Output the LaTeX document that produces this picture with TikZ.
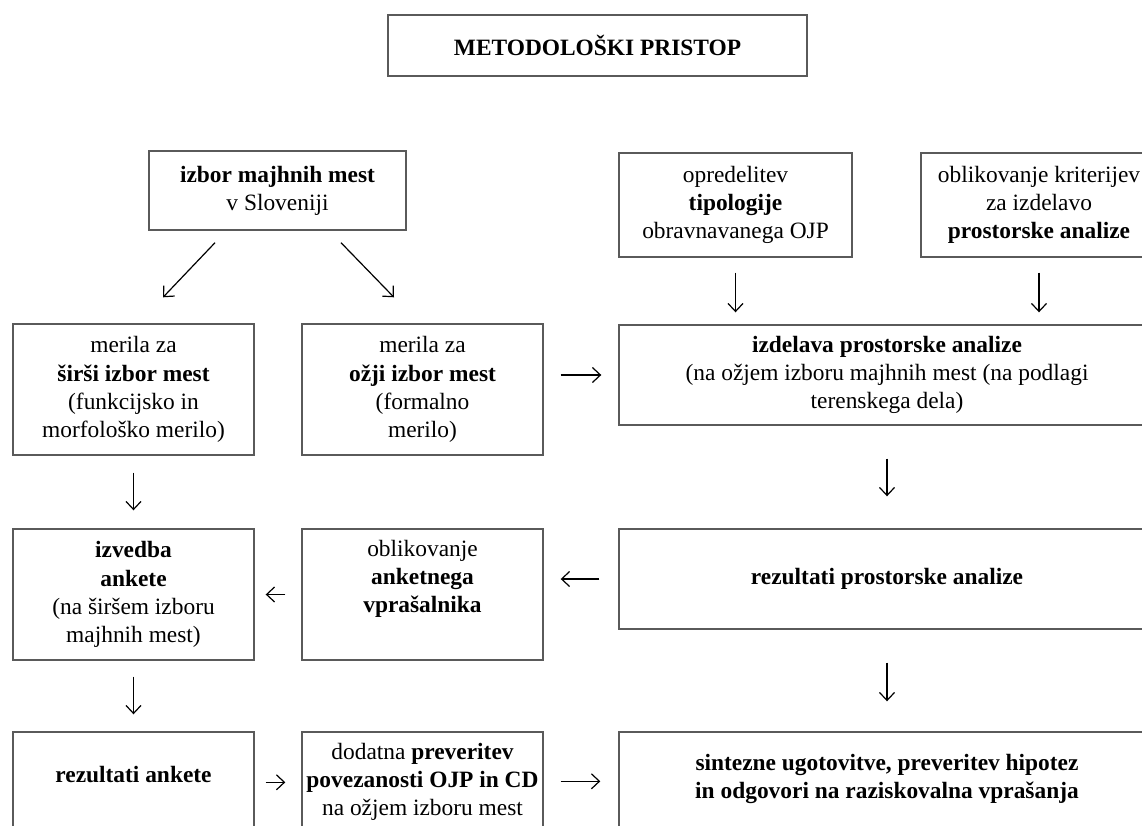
\documentclass[tikz,border=0pt]{standalone}
\usepackage{fontspec}
\setmainfont{Liberation Serif}
\usetikzlibrary{arrows.meta,calc}
\definecolor{boxline}{HTML}{5A5A5A}
\tikzset{
  box/.style={draw=boxline, line width=1.4pt, inner sep=0pt, align=center,
    font=\fontsize{23.4}{28.2}\selectfont},
  conn/.style={line width=1.2pt, -{Straight Barb[length=8pt,width=15pt,line width=1.2pt]}}
}
\begin{document}
\begin{tikzpicture}[x=1pt,y=-1pt]
\useasboundingbox (0,0) rectangle (1142,825);
\clip (0,0) rectangle (1142,825);
\fill[white] (0,0) rectangle (1142,825);

\node[box, minimum width=419, minimum height=61] (title) at (597.5,45.5) {\textbf{METODOLOŠKI PRISTOP}};

\node[box, minimum width=257, minimum height=79] (izbor) at (277.5,190.5) {\textbf{izbor majhnih mest}\\ v Sloveniji};

\node[box, minimum width=241, minimum height=131] (sirsi) at (133.5,389.5) {merila za\\ \textbf{širši izbor mest}\\ (funkcijsko in\\ morfološko merilo)};
\node[box, minimum width=241, minimum height=131] (ozji) at (422.5,389.5) {merila za\\ \textbf{ožji izbor mest}\\ (formalno\\ merilo)};

\node[box, minimum width=233, minimum height=104] (opr) at (735.5,205) {opredelitev\\ \textbf{tipologije}\\ obravnavanega OJP};
\node[box, minimum width=236, minimum height=104] (krit) at (1039,205) {oblikovanje kriterijev\\ za izdelavo\\ \textbf{prostorske analize}};

\node[box, minimum width=536, minimum height=100] (izd) at (887,375) {\textbf{izdelava prostorske analize}\\ (na ožjem izboru majhnih mest (na podlagi\\ terenskega dela)};

\node[box, minimum width=241, minimum height=131] (izv) at (133.5,594.5) {\textbf{izvedba}\\ \textbf{ankete}\\ (na širšem izboru\\ majhnih mest)};
\node[box, minimum width=241, minimum height=131] (oa) at (422.5,594.5) {oblikovanje\\ \textbf{anketnega}\\ \textbf{vprašalnika}\\ \strut};
\node[box, minimum width=536, minimum height=100] (rp) at (887,579) {\textbf{rezultati prostorske analize}};

\node[box, minimum width=241, minimum height=150] (ra) at (133.5,807) {\textbf{rezultati ankete}\\ \strut\\ \strut};
\node[box, minimum width=241, minimum height=160] (dod) at (422.5,812) {dodatna \textbf{preveritev}\\ \textbf{povezanosti OJP in CD}\\ na ožjem izboru mest\\ \strut\\ \strut};
\node[box, minimum width=536, minimum height=154] (sin) at (887,809) {\textbf{sintezne ugotovitve, preveritev hipotez}\\ \textbf{in odgovori na raziskovalna vprašanja}\\ \strut\\ \strut};

% connectors
\draw[conn] ($(izbor.south)+(-62.5,12)$) -- ($(sirsi.north)+(29.5,-26)$);
\draw[conn] ($(izbor.south)+(63.5,12)$) -- ($(ozji.north)+(-28.5,-26)$);
\draw[conn, shorten <=17pt, shorten >=17pt] (ozji.east |- izd.west) -- (izd.west);
\draw[conn, shorten <=15pt, shorten >=12pt] (opr.south) -- (opr.south |- izd.north);
\draw[conn, shorten <=15pt, shorten >=12pt] (krit.south) -- (krit.south |- izd.north);
\draw[conn, shorten <=33pt, shorten >=32pt] (izd.south) -- (rp.north);
\draw[conn, shorten <=33pt, shorten >=30pt] (rp.south) -- (rp.south |- sin.north);
\draw[conn, shorten <=19pt, shorten >=17pt] (rp.west) -- (rp.west -| oa.east);
\draw[conn, shorten <=16pt, shorten >=11pt] (oa.west) -- (izv.east);
\draw[conn, shorten <=17pt, shorten >=18pt] (sirsi.south) -- (izv.north);
\draw[conn, shorten <=16pt, shorten >=17pt] (izv.south) -- (ra.north);
\draw[conn, shorten <=11pt, shorten >=16pt] ($(ra.north east)+(0,51)$) -- ($(dod.north west)+(0,51)$);
\draw[conn, shorten <=17pt, shorten >=18pt] ($(dod.north east)+(0,50)$) -- ($(sin.north west)+(0,50)$);
\end{tikzpicture}
\end{document}
